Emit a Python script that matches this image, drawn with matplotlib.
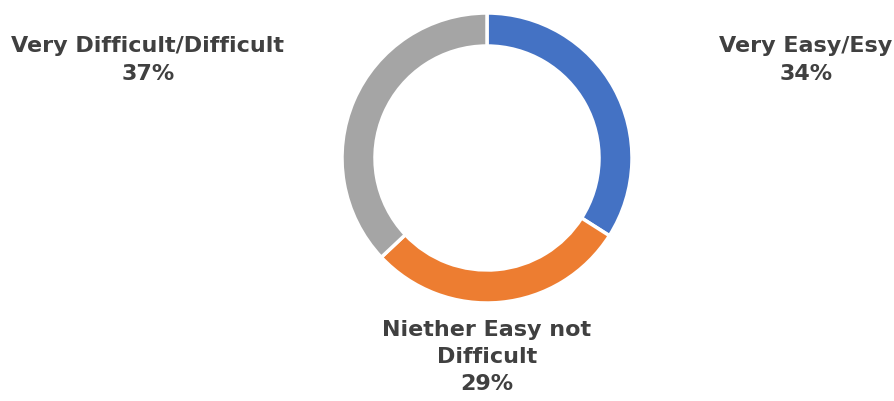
import matplotlib.pyplot as plt

labels = ['Very Easy/Esy', 'Niether Easy not\nDifficult', 'Very Difficult/Difficult']
values = [34, 29, 37]
colors = ['#4472C4', '#ED7D31', '#A5A5A5']

W, H = 895, 401
fig = plt.figure(figsize=(W / 100, H / 100), dpi=100)
ax = fig.add_axes([0, 0, 1, 1])

# donut drawn in pixel-like coordinates, clockwise from 12 o'clock
ax.pie(values, colors=colors, startangle=90, counterclock=False,
       center=(487, H - 158), radius=145,
       wedgeprops=dict(width=33, edgecolor='white', linewidth=2.5))
ax.set_xlim(0, W)
ax.set_ylim(0, H)
ax.set_aspect('equal')
ax.axis('off')

txt = dict(ha='center', va='center', fontsize=16, fontweight='bold',
           color='#404040', linespacing=1.45)
label_pos = [(806, H - 60), (487, H - 357), (148, H - 60)]
for lab, v, (x, y) in zip(labels, values, label_pos):
    ax.text(x, y, f'{lab}\n{v}%', **txt)

fig.savefig('out.png', dpi=100)
